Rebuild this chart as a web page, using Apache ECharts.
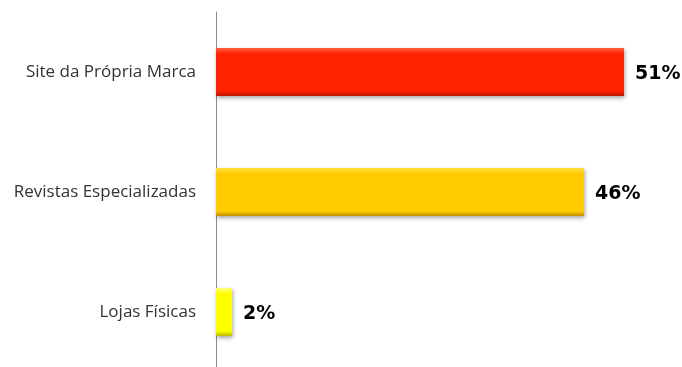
<!DOCTYPE html>
<html>
<head>
<meta charset="utf-8">
<script src="https://cdn.jsdelivr.net/npm/echarts@6/dist/echarts.min.js"></script>
<style>
  html, body { margin: 0; padding: 0; background: #fff; }
  #chart { width: 682px; height: 367px; }
</style>
</head>
<body>
<div id="chart"></div>
<script>
// Categories listed bottom to top (category axis on y runs upward)
const categories = ['Lojas Físicas', 'Revistas Especializadas', 'Site da Própria Marca'];
const values = [2, 46, 51];
const barColors = [
  { top: '#FFFF80', main: '#FFFF00', bottom: '#B8B800' },
  { top: '#FFE040', main: '#FFCC00', bottom: '#C09000' },
  { top: '#FF6040', main: '#FF2200', bottom: '#B81800' }
];

function bevel(c) {
  return new echarts.graphic.LinearGradient(0, 0, 0, 1, [
    { offset: 0, color: c.top },
    { offset: 0.12, color: c.main },
    { offset: 0.9, color: c.main },
    { offset: 1, color: c.bottom }
  ]);
}

const chart = echarts.init(document.getElementById('chart'));
chart.setOption({
  animation: false,
  grid: {
    left: 216, width: 440, top: 12, height: 360,
    containLabel: false, outerBoundsMode: 'none'
  },
  xAxis: {
    type: 'value', min: 0, max: 55,
    show: false
  },
  yAxis: {
    type: 'category',
    data: categories,
    axisLine: { show: true, lineStyle: { color: '#8c8c8c', width: 1 } },
    axisTick: { show: false },
    axisLabel: {
      color: '#333', fontFamily: 'Open Sans', fontSize: 17, margin: 20
    }
  },
  series: [{
    type: 'bar',
    barWidth: 48,
    data: values.map((v, i) => ({
      value: v,
      itemStyle: {
        color: bevel(barColors[i]),
        shadowColor: 'rgba(0,0,0,0.35)',
        shadowBlur: 4,
        shadowOffsetX: 1,
        shadowOffsetY: 2
      }
    })),
    label: {
      show: true, position: 'right', distance: 11, offset: [0, 2],
      formatter: p => p.value + '%',
      fontFamily: 'DejaVu Sans', fontWeight: 'bold', fontSize: 19, color: '#000'
    }
  }]
});
</script>
</body>
</html>
